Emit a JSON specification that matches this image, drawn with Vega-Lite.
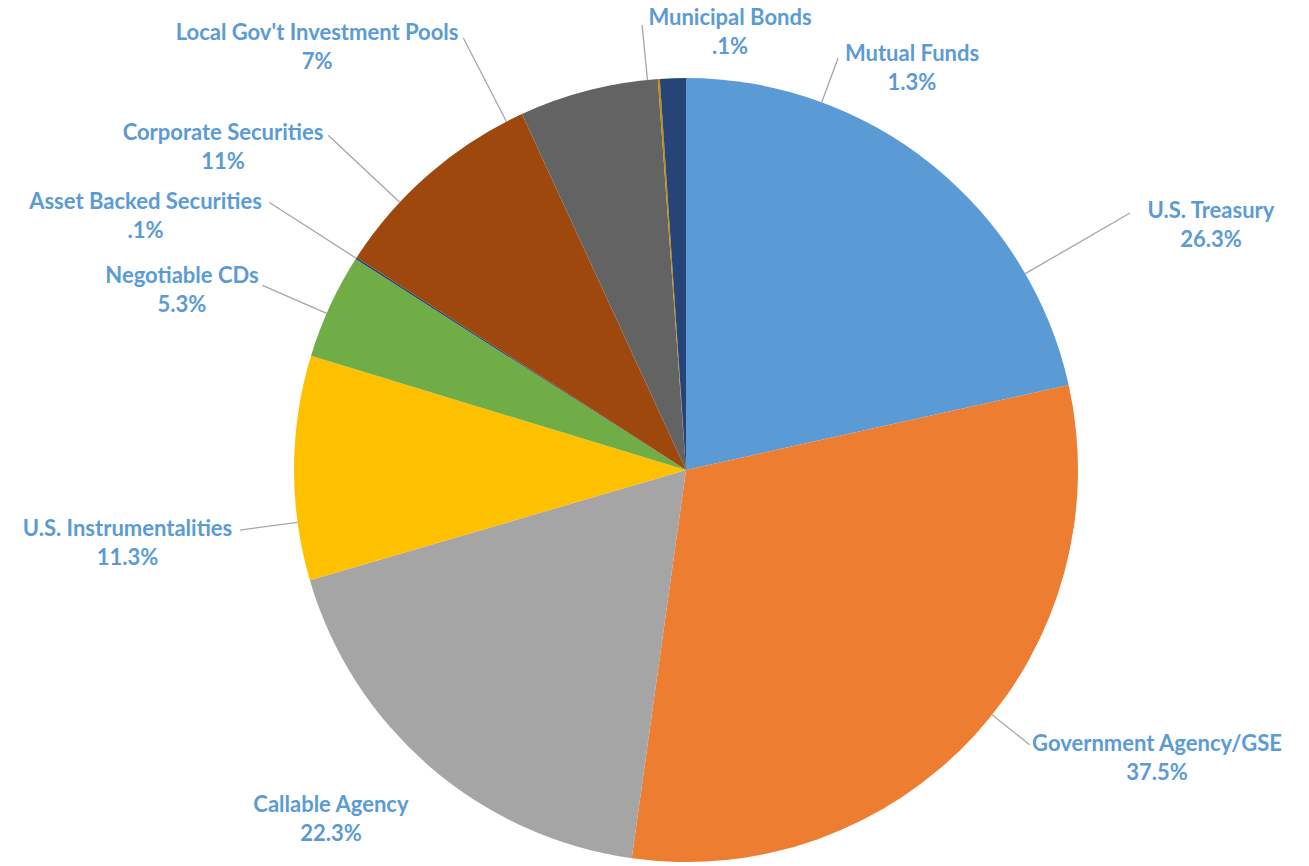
{
  "$schema": "https://vega.github.io/schema/vega-lite/v6.json",
  "width": 1246,
  "height": 792,
  "autosize": {"type": "none"},
  "padding": {"left": 63, "top": 74, "right": 0, "bottom": 0},
  "background": "white",
  "config": {"view": {"stroke": null}},
  "data": {
    "values": [
      {"rank": 1, "category": "U.S. Treasury", "value": 26.3, "label": "26.3%"},
      {"rank": 2, "category": "Government Agency/GSE", "value": 37.5, "label": "37.5%"},
      {"rank": 3, "category": "Callable Agency", "value": 22.3, "label": "22.3%"},
      {"rank": 4, "category": "U.S. Instrumentalities", "value": 11.3, "label": "11.3%"},
      {"rank": 5, "category": "Negotiable CDs", "value": 5.3, "label": "5.3%"},
      {"rank": 6, "category": "Asset Backed Securities", "value": 0.1, "label": ".1%"},
      {"rank": 7, "category": "Corporate Securities", "value": 11, "label": "11%"},
      {"rank": 8, "category": "Local Gov't Investment Pools", "value": 7, "label": "7%"},
      {"rank": 9, "category": "Municipal Bonds", "value": 0.1, "label": ".1%"},
      {"rank": 10, "category": "Mutual Funds", "value": 1.3, "label": "1.3%"}
    ]
  },
  "encoding": {
    "theta": {"field": "value", "type": "quantitative", "stack": true},
    "order": {"field": "rank", "type": "quantitative"}
  },
  "layer": [
    {
      "mark": {"type": "arc", "outerRadius": 392},
      "encoding": {
        "color": {
          "field": "category",
          "type": "nominal",
          "legend": null,
          "scale": {
            "domain": ["U.S. Treasury", "Government Agency/GSE", "Callable Agency", "U.S. Instrumentalities", "Negotiable CDs", "Asset Backed Securities", "Corporate Securities", "Local Gov't Investment Pools", "Municipal Bonds", "Mutual Funds"],
            "range": ["#5B9BD5", "#ED7D31", "#A5A5A5", "#FFC000", "#70AD47", "#264478", "#9E480E", "#636363", "#BF8F00", "#264478"]
          }
        }
      }
    },
    {
      "mark": {
        "type": "arc",
        "filled": false,
        "fill": null,
        "stroke": "#a6a6a6",
        "strokeWidth": 1.3,
        "padAngle": 3.1416,
        "innerRadius": 392,
        "outerRadius": {"expr": "[513, 440, 392, 450, 462, 495, 490, 486, 447, 439][datum.rank - 1]"},
        "thetaOffset": {"expr": "[0.370, -0.071, 0, -0.139, -0.021, 0, -0.104, -0.224, -0.029, 0.387][datum.rank - 1]"},
        "theta2Offset": {"expr": "[0.370, -0.071, 0, -0.139, -0.021, 0, -0.104, -0.224, -0.029, 0.387][datum.rank - 1]"}
      }
    },
    {
      "mark": {
        "type": "text",
        "radius": 392,
        "font": "Lato",
        "fontWeight": "bold",
        "fontSize": 22,
        "fill": "#5B9BD5",
        "align": "center",
        "baseline": "middle",
        "dx": {"expr": "[279.7, 183.0, -98.9, -166.5, -148, -210.6, -206.1, -271.2, 71.2, 239.1][datum.rank - 1]"},
        "dy": {"expr": "[61.3, 22.6, 52.8, 76, -15.4, -41.7, -26.4, -42.9, -46.9, -10.2][datum.rank - 1] - 14.5"}
      },
      "encoding": {"text": {"field": "category", "type": "nominal"}}
    },
    {
      "mark": {
        "type": "text",
        "radius": 392,
        "font": "Lato",
        "fontWeight": "bold",
        "fontSize": 22,
        "fill": "#5B9BD5",
        "align": "center",
        "baseline": "middle",
        "dx": {"expr": "[279.7, 183.0, -98.9, -166.5, -148, -210.6, -206.1, -271.2, 71.2, 239.1][datum.rank - 1]"},
        "dy": {"expr": "[61.3, 22.6, 52.8, 76, -15.4, -41.7, -26.4, -42.9, -46.9, -10.2][datum.rank - 1] + 14.5"}
      },
      "encoding": {"text": {"field": "label", "type": "nominal"}}
    }
  ]
}
